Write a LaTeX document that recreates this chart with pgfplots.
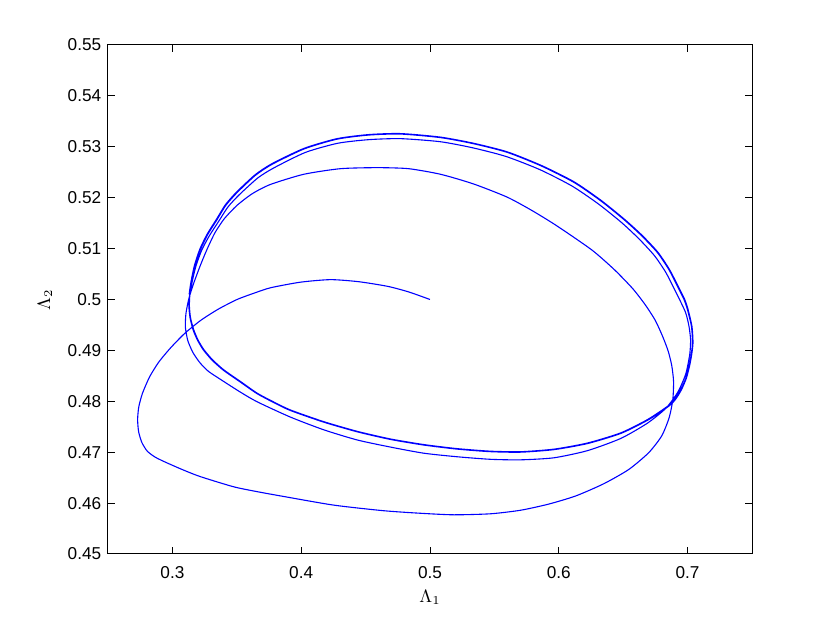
\documentclass[border=0pt]{standalone}
\usepackage{pgfplots}
\pgfplotsset{compat=1.18}
\usepackage{fontspec}
\setmainfont{Liberation Sans}
\begin{document}
\begin{tikzpicture}
\begin{axis}[
  scale only axis, width=322pt, height=254.5pt,
  xmin=0.25, xmax=0.75, ymin=0.45, ymax=0.55,
  xtick={0.3,0.4,0.5,0.6,0.7},
  ytick={0.45,0.46,0.47,0.48,0.49,0.5,0.51,0.52,0.53,0.54,0.55},
  scaled ticks=false,
  /pgf/number format/assume math mode=true,
  /pgf/number format/fixed,
  tick label style={font=\fontsize{8.6}{10}\selectfont},
  xticklabel style={inner sep=0pt, yshift=-6pt},
  yticklabel style={inner sep=0pt, xshift=-3.2pt},
  major tick length=3.4pt,
  tick align=inside,
  tick style={black, line width=0.5pt},
  axis line style={black, line width=0.5pt},
  xlabel={$\Lambda_1$}, ylabel={$\Lambda_2$},
  label style={font=\fontsize{8.8}{10}\selectfont},
  xlabel style={at={(axis description cs:0.5,-0.0707)}, anchor=north, inner sep=0pt},
  ylabel style={at={(axis description cs:-0.0978,0.5)}, anchor=center, inner sep=0pt},
]
\addplot[color={rgb,1:red,0;green,0;blue,1}, line width=0.55pt, smooth, tension=0.4] coordinates {
(0.5000,0.5000) (0.4833,0.5015) (0.4668,0.5026) (0.4445,0.5035) (0.4227,0.5039)
(0.3994,0.5034) (0.3761,0.5023) (0.3629,0.5012) (0.3502,0.5000) (0.3356,0.4981)
(0.3220,0.4959) (0.3094,0.4933) (0.2986,0.4905) (0.2894,0.4877) (0.2823,0.4848)
(0.2768,0.4816) (0.2739,0.4789) (0.2730,0.4764) (0.2738,0.4740) (0.2763,0.4719)
(0.2805,0.4702) (0.2868,0.4690) (0.2958,0.4679) (0.3085,0.4665) (0.3217,0.4652)
(0.3476,0.4632) (0.3668,0.4622) (0.3864,0.4613) (0.4253,0.4596) (0.4641,0.4585)
(0.4927,0.4580) (0.5185,0.4577) (0.5471,0.4579) (0.5704,0.4586) (0.5921,0.4598)
(0.6131,0.4614) (0.6349,0.4638) (0.6543,0.4666) (0.6698,0.4699) (0.6799,0.4732)
(0.6857,0.4768) (0.6885,0.4803) (0.6891,0.4839) (0.6877,0.4870) (0.6850,0.4898)
(0.6807,0.4927) (0.6749,0.4959) (0.6670,0.4990) (0.6575,0.5021) (0.6434,0.5058)
(0.6258,0.5097) (0.5989,0.5144) (0.5797,0.5174) (0.5600,0.5201) (0.5338,0.5227)
(0.5082,0.5246) (0.4833,0.5257) (0.4592,0.5259) (0.4305,0.5257) (0.4020,0.5246)
(0.3761,0.5226) (0.3621,0.5208) (0.3502,0.5185) (0.3404,0.5159) (0.3330,0.5131)
(0.3268,0.5098) (0.3217,0.5067) (0.3167,0.5033) (0.3128,0.5002) (0.3105,0.4972)
(0.3101,0.4945) (0.3120,0.4919) (0.3159,0.4896) (0.3213,0.4876) (0.3279,0.4859)
(0.3398,0.4839) (0.3528,0.4818) (0.3658,0.4799) (0.3916,0.4769) (0.4175,0.4744)
(0.4435,0.4724) (0.4694,0.4710) (0.4952,0.4698) (0.5212,0.4691) (0.5471,0.4686)
(0.5704,0.4685) (0.5962,0.4689) (0.6222,0.4703) (0.6481,0.4727) (0.6688,0.4757)
(0.6830,0.4786) (0.6924,0.4818) (0.6986,0.4854) (0.7017,0.4893) (0.7023,0.4921)
(0.7011,0.4947) (0.6982,0.4976)
(0.6894,0.5022) (0.6829,0.5054) (0.6743,0.5086) (0.6623,0.5119) (0.6488,0.5151)
(0.6306,0.5188) (0.6102,0.5223) (0.5854,0.5255) (0.5590,0.5281) (0.5332,0.5298)
(0.5079,0.5310) (0.4771,0.5316) (0.4524,0.5314) (0.4285,0.5307) (0.4033,0.5289)
(0.3791,0.5259) (0.3664,0.5239) (0.3520,0.5206) (0.3432,0.5182) (0.3363,0.5155)
(0.3289,0.5126) (0.3228,0.5097) (0.3182,0.5065) (0.3152,0.5033) (0.3136,0.5010)
(0.3132,0.4987) (0.3141,0.4964) (0.3165,0.4941) (0.3198,0.4921) (0.3243,0.4902)
(0.3310,0.4882) (0.3398,0.4862) (0.3528,0.4839) (0.3658,0.4816) (0.3784,0.4799)
(0.3916,0.4783) (0.4175,0.4760) (0.4435,0.4741) (0.4693,0.4726) (0.4952,0.4715)
(0.5212,0.4707) (0.5470,0.4702) (0.5704,0.4701) (0.5962,0.4706) (0.6222,0.4718)
(0.6481,0.4738) (0.6688,0.4764) (0.6843,0.4790) (0.6900,0.4804) (0.6947,0.4823)
(0.6986,0.4845) (0.7011,0.4869) (0.7028,0.4892) (0.7038,0.4915) (0.7030,0.4947)
(0.6999,0.4980) (0.6972,0.5000) (0.6921,0.5026) (0.6854,0.5059) (0.6766,0.5092)
(0.6644,0.5125) (0.6506,0.5157) (0.6325,0.5194) (0.6118,0.5230) (0.5867,0.5262)
(0.5600,0.5289) (0.5338,0.5306) (0.5082,0.5318) (0.4771,0.5325) (0.4523,0.5323)
(0.4279,0.5315) (0.4025,0.5296) (0.3777,0.5266) (0.3645,0.5244) (0.3502,0.5210)
(0.3415,0.5185) (0.3347,0.5157) (0.3275,0.5128) (0.3217,0.5098) (0.3174,0.5066)
(0.3147,0.5033) (0.3134,0.5010)
(0.3128,0.4987) (0.3137,0.4964) (0.3161,0.4940) (0.3195,0.4920) (0.3240,0.4901)
(0.3307,0.4881) (0.3396,0.4861) (0.3526,0.4838) (0.3657,0.4815) (0.3783,0.4798)
(0.3915,0.4782) (0.4175,0.4759) (0.4435,0.4740) (0.4693,0.4725) (0.4952,0.4714)
(0.5212,0.4706) (0.5470,0.4701) (0.5704,0.4700) (0.5963,0.4705) (0.6224,0.4717)
(0.6483,0.4737) (0.6691,0.4763) (0.6847,0.4789) (0.6904,0.4803) (0.6951,0.4822)
(0.6990,0.4845) (0.7015,0.4869) (0.7032,0.4892) (0.7042,0.4915) (0.7034,0.4947)
(0.7003,0.4981) (0.6976,0.5001) (0.6925,0.5027) (0.6857,0.5060) (0.6769,0.5093)
(0.6647,0.5126) (0.6508,0.5158) (0.6327,0.5195) (0.6120,0.5231) (0.5868,0.5263)
(0.5601,0.5290) (0.5338,0.5307) (0.5082,0.5319) (0.4771,0.5326) (0.4523,0.5324)
(0.4278,0.5316) (0.4023,0.5297) (0.3774,0.5267) (0.3642,0.5245) (0.3498,0.5211)
(0.3411,0.5186) (0.3343,0.5158) (0.3271,0.5129) (0.3213,0.5099) (0.3170,0.5066)
(0.3143,0.5033) (0.3130,0.5010)
};
\end{axis}
\pgfresetboundingbox
\path (current axis.south west) ++(-54pt,-35.5pt) rectangle ([shift={(39pt,22.5pt)}]current axis.north east);
\end{tikzpicture}
\end{document}
